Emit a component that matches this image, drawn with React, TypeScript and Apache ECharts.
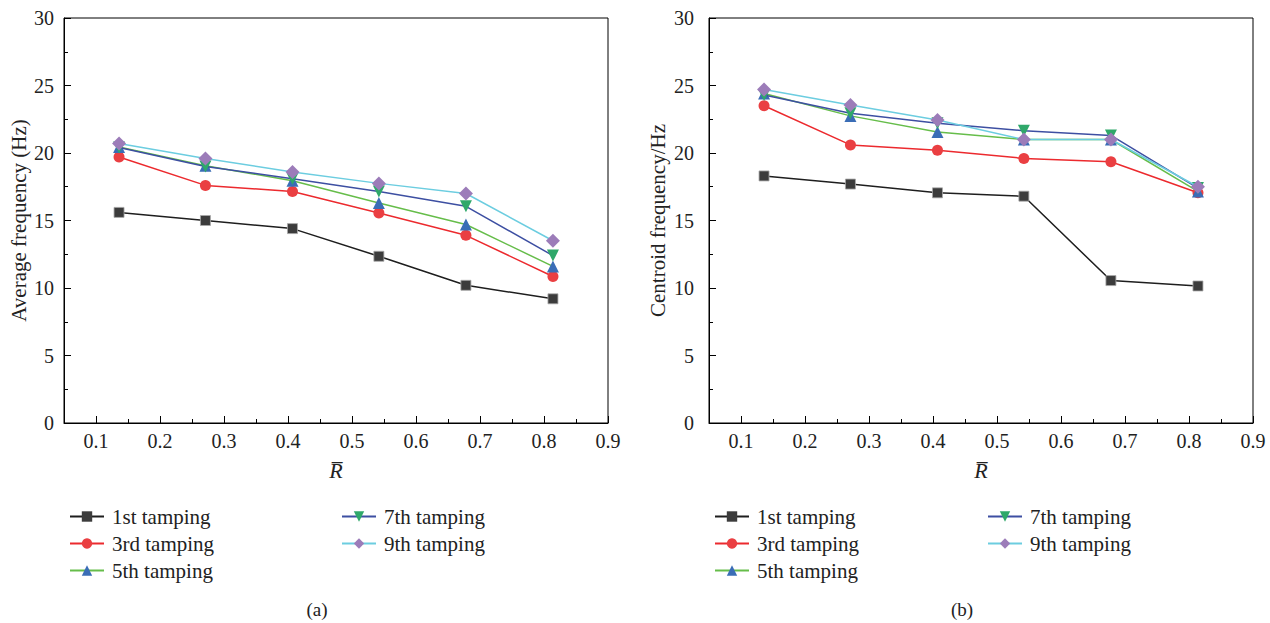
import React, { useEffect, useRef } from "react";
import * as echarts from "echarts";

const seriesNames = ["1st tamping", "3rd tamping", "5th tamping", "7th tamping", "9th tamping"];
const xValues = [0.136, 0.271, 0.407, 0.542, 0.678, 0.814];
const xMajorTicks = [0.1, 0.2, 0.3, 0.4, 0.5, 0.6, 0.7, 0.8, 0.9];
const xMinorTicks = [0.15, 0.25, 0.35, 0.45, 0.55, 0.65, 0.75, 0.85];

// (a) Average frequency (Hz)
const avg1st = [15.6, 15.0, 14.4, 12.35, 10.2, 9.2];
const avg3rd = [19.7, 17.6, 17.15, 15.55, 13.9, 10.85];
const avg5th = [20.45, 19.05, 17.95, 16.3, 14.7, 11.6];
const avg7th = [20.4, 19.0, 18.1, 17.15, 16.05, 12.4];
const avg9th = [20.7, 19.6, 18.6, 17.75, 17.0, 13.5];

// (b) Centroid frequency/Hz
const cen1st = [18.3, 17.7, 17.05, 16.8, 10.55, 10.15];
const cen3rd = [23.5, 20.6, 20.2, 19.6, 19.35, 17.05];
const cen5th = [24.4, 22.75, 21.55, 21.0, 21.0, 17.15];
const cen7th = [24.3, 22.95, 22.2, 21.65, 21.3, 17.4];
const cen9th = [24.7, 23.55, 22.45, 21.0, 21.0, 17.5];

const FONT = "'Liberation Serif', 'DejaVu Serif', serif";

const styles = [
  { line: "#1e1e1e", mark: "#3c3c3c", symbol: "rect", size: 10, rotate: 0, border: "#a8a8a8", bw: 0.8 },
  { line: "#ec2a2e", mark: "#ea3f42", symbol: "circle", size: 11, rotate: 0, border: "#ffffff", bw: 0 },
  { line: "#66bd4a", mark: "#3a6db6", symbol: "triangle", size: 12, rotate: 0, border: "#ffffff", bw: 0 },
  { line: "#3d4fa2", mark: "#2fa86a", symbol: "triangle", size: 12, rotate: 180, border: "#ffffff", bw: 0 },
  { line: "#6ccde0", mark: "#9c7cb9", symbol: "diamond", size: 14, rotate: 0, border: "#ffffff", bw: 0 },
];

function makeSeries(data: number[][], xIdx: number, yIdx: number) {
  return data.map((vals, i) => ({
    name: seriesNames[i],
    type: "line",
    xAxisIndex: xIdx,
    yAxisIndex: yIdx,
    data: vals.map((v, k) => [xValues[k], v]),
    symbol: styles[i].symbol,
    symbolSize: styles[i].size,
    symbolRotate: styles[i].rotate,
    lineStyle: { color: styles[i].line, width: 1.5 },
    itemStyle: { color: styles[i].mark, borderColor: styles[i].border, borderWidth: styles[i].bw },
    z: 2 + i,
  }));
}

function makeXAxes(gridIndex: number) {
  return [
    {
      type: "value",
      gridIndex,
      min: 0.05,
      max: 0.9,
      position: "bottom",
      name: "R\u0305",
      nameLocation: "middle",
      nameGap: 36,
      nameTextStyle: { fontFamily: FONT, fontSize: 22, fontStyle: "italic", color: "#222" },
      axisLine: { show: true, onZero: false, lineStyle: { color: "#000", width: 1 } },
      axisTick: { show: true, inside: true, length: 7, customValues: xMajorTicks, lineStyle: { color: "#000" } },
      axisLabel: {
        show: true,
        customValues: xMajorTicks,
        margin: 8,
        fontFamily: FONT,
        fontSize: 20,
        color: "#222",
        formatter: (v: number) => v.toFixed(1),
      },
      splitLine: { show: false },
    },
    {
      type: "value",
      gridIndex,
      min: 0.05,
      max: 0.9,
      position: "bottom",
      axisLine: { show: false },
      axisTick: { show: true, inside: true, length: 4, customValues: xMinorTicks, lineStyle: { color: "#000" } },
      axisLabel: { show: false },
      splitLine: { show: false },
    },
  ];
}

function makeYAxis(gridIndex: number, name: string, nameGap: number, margin: number) {
  return {
    type: "value",
    gridIndex,
    min: 0,
    max: 30,
    interval: 5,
    name,
    nameLocation: "middle",
    nameGap,
    nameTextStyle: { fontFamily: FONT, fontSize: 21, color: "#222" },
    axisLine: { show: true, lineStyle: { color: "#000", width: 1 } },
    axisTick: { show: true, inside: true, length: 7, lineStyle: { color: "#000" } },
    minorTick: { show: true, splitNumber: 2, length: 4, lineStyle: { color: "#000" } },
    axisLabel: { margin, fontFamily: FONT, fontSize: 20, color: "#222" },
    splitLine: { show: false },
  };
}

function makeLegend(left: number, names: string[]) {
  return {
    orient: "vertical",
    left,
    top: 501,
    itemWidth: 34,
    itemHeight: 13,
    itemGap: 6,
    data: names,
    selectedMode: false,
    itemStyle: { borderWidth: 0 },
    textStyle: { fontFamily: FONT, fontSize: 21, color: "#222", padding: [0, 0, 0, 3] },
  };
}

export default function App() {
  const ref = useRef<HTMLDivElement>(null);
  useEffect(() => {
    if (!ref.current) return;
    const chart = echarts.init(ref.current, undefined, { renderer: "svg" });
    const option = {
      animation: false,
      backgroundColor: "#ffffff",
      title: [
        { text: "(a)", left: 312, top: 595, textAlign: "center", textStyle: { fontFamily: FONT, fontSize: 19, fontWeight: "normal", color: "#222" } },
        { text: "(b)", left: 957, top: 595, textAlign: "center", textStyle: { fontFamily: FONT, fontSize: 19, fontWeight: "normal", color: "#222" } },
      ],
      grid: [
        { left: 64, top: 18, width: 544, height: 405, show: true, borderColor: "#000", borderWidth: 1, backgroundColor: "transparent" },
        { left: 709, top: 18, width: 544, height: 405, show: true, borderColor: "#000", borderWidth: 1, backgroundColor: "transparent" },
      ],
      xAxis: [...makeXAxes(0), ...makeXAxes(1)],
      yAxis: [makeYAxis(0, "Average frequency (Hz)", 35, 10), makeYAxis(1, "Centroid frequency/Hz", 41, 15)],
      legend: [
        makeLegend(64, seriesNames.slice(0, 3)),
        makeLegend(336, seriesNames.slice(3)),
        makeLegend(709, seriesNames.slice(0, 3)),
        makeLegend(982, seriesNames.slice(3)),
      ],
      series: [
        ...makeSeries([avg1st, avg3rd, avg5th, avg7th, avg9th], 0, 0),
        ...makeSeries([cen1st, cen3rd, cen5th, cen7th, cen9th], 2, 1),
      ],
    };
    chart.setOption(option as any);
    return () => chart.dispose();
  }, []);
  return <div ref={ref} style={{ position: "absolute", left: 0, top: 0, width: 1270, height: 623 }} />;
}
